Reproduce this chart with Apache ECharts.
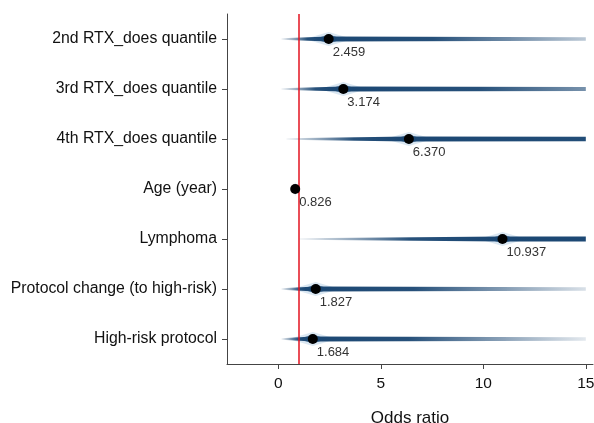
<!DOCTYPE html>
<html>
<head>
<meta charset="utf-8">
<script src="https://cdn.jsdelivr.net/npm/echarts@6/dist/echarts.min.js"></script>
<style>
html,body{margin:0;padding:0;background:#fff;}
#chart{width:594px;height:423px;}
</style>
</head>
<body>
<div id="chart"></div>
<script>
var categories = ['2nd RTX_does quantile','3rd RTX_does quantile','4th RTX_does quantile','Age (year)','Lymphoma','Protocol change (to high-risk)','High-risk protocol'];
var estimates = [2.459, 3.174, 6.370, 0.826, 10.937, 1.827, 1.684];
var lowerBound = [0.15, 0.15, 0.4, 0.7, 1.0, 0.15, 0.15];
var upperBound = [17, 22, 45, 0.96, 80, 15.5, 15];
var xTicks = [0, 5, 10, 15];
var refValue = 1;
var xClip = 15;

var FONT = '"Liberation Sans", Arial, sans-serif';
var chart = echarts.init(document.getElementById('chart'));

var bandData = categories.map(function (c, i) {
  return [i, lowerBound[i], estimates[i], upperBound[i]];
});

function renderBand(params, api) {
  var idx = api.value(0);
  var lo = api.value(1), est = api.value(2), hi = api.value(3);
  var pLo = api.coord([lo, idx]);
  var pEst = api.coord([est, idx]);
  var pHi = api.coord([hi, idx]);
  var pCut = api.coord([Math.min(hi, xClip), idx]);
  var cy = pEst[1];
  var xLo = pLo[0], xE = pEst[0], xH = pHi[0], xC = pCut[0];
  var span = xH - xLo;
  var children = [];
  if (span > 0) {
    var fE = (xE - xLo) / span;
    var dark = '27,71,115';
    var grad = {
      type: 'linear', x: xLo, y: 0, x2: xH, y2: 0, global: true,
      colorStops: [
        {offset: 0, color: 'rgba(' + dark + ',0.05)'},
        {offset: fE * 0.55, color: 'rgba(' + dark + ',0.95)'},
        {offset: fE, color: 'rgba(' + dark + ',1)'},
        {offset: fE + (1 - fE) * 0.35, color: 'rgba(' + dark + ',0.95)'},
        {offset: 1, color: 'rgba(' + dark + ',0.12)'}
      ]
    };
    var tE = 2.5, tL = 0.8, tH = 1.7;
    var tC = tE + (tH - tE) * ((xC - xE) / Math.max(1, xH - xE));
    var gw = Math.min(24, span / 2);
    var gw2 = Math.min(14, span / 2);
    children.push({
      type: 'polygon',
      shape: {points: [[xE - gw, cy], [xE, cy - 7], [xE + gw, cy], [xE, cy + 7]]},
      style: {fill: 'rgba(150,185,218,0.35)'}
    });
    children.push({
      type: 'polygon',
      shape: {points: [[xE - gw2, cy], [xE, cy - 4.5], [xE + gw2, cy], [xE, cy + 4.5]]},
      style: {fill: 'rgba(27,71,115,0.75)'}
    });
    children.push({
      type: 'polygon',
      shape: {points: [[xLo, cy - tL], [xE, cy - tE], [xC, cy - tC], [xC, cy + tC], [xE, cy + tE], [xLo, cy + tL]]},
      style: {fill: grad}
    });
  }
  return {type: 'group', children: children};
}

function renderDot(params, api) {
  var idx = api.value(0);
  var est = api.value(1);
  var p = api.coord([est, idx]);
  return {
    type: 'group',
    children: [
      {type: 'circle', shape: {cx: p[0], cy: p[1], r: 5}, style: {fill: '#000'}},
      {type: 'text', x: p[0] + 4, y: p[1] + 13.5,
        style: {text: est.toFixed(3), fill: '#333', font: '13px ' + FONT, textAlign: 'left', textVerticalAlign: 'middle'}}
    ]
  };
}

chart.setOption({
  animation: false,
  backgroundColor: '#fff',
  grid: {left: 227, right: 1, top: 14, bottom: 59, containLabel: false, outerBoundsMode: 'none'},
  xAxis: {
    type: 'value',
    min: -2.5,
    max: 15.35,
    name: 'Odds ratio',
    nameLocation: 'middle',
    nameGap: 46,
    nameTextStyle: {fontFamily: FONT, fontSize: 17, color: '#111'},
    splitLine: {show: false},
    axisLine: {show: true, onZero: false, lineStyle: {color: '#444', width: 1}},
    axisTick: {show: true, length: 5, customValues: xTicks, lineStyle: {color: '#444'}},
    axisLabel: {customValues: xTicks, fontFamily: FONT, fontSize: 15.5, color: '#111', margin: 12}
  },
  yAxis: {
    type: 'category',
    data: categories,
    inverse: true,
    axisLine: {show: true, onZero: false, lineStyle: {color: '#444', width: 1}},
    axisTick: {show: true, alignWithLabel: true, length: 5, lineStyle: {color: '#444'}},
    axisLabel: {fontFamily: FONT, fontSize: 15.8, color: '#111', margin: 10},
    splitLine: {show: false}
  },
  series: [
    {
      type: 'custom',
      renderItem: renderBand,
      data: bandData,
      clip: true,
      z: 2,
      encode: {x: [1, 2, 3], y: 0}
    },
    {
      type: 'line',
      data: [],
      z: 3,
      markLine: {
        silent: true,
        symbol: 'none',
        label: {show: false},
        lineStyle: {color: '#e3121f', width: 1.5, type: 'solid'},
        data: [{xAxis: refValue}]
      }
    },
    {
      type: 'custom',
      renderItem: renderDot,
      data: categories.map(function (c, i) { return [i, estimates[i]]; }),
      z: 5,
      encode: {x: 1, y: 0}
    }
  ]
});
</script>
</body>
</html>
